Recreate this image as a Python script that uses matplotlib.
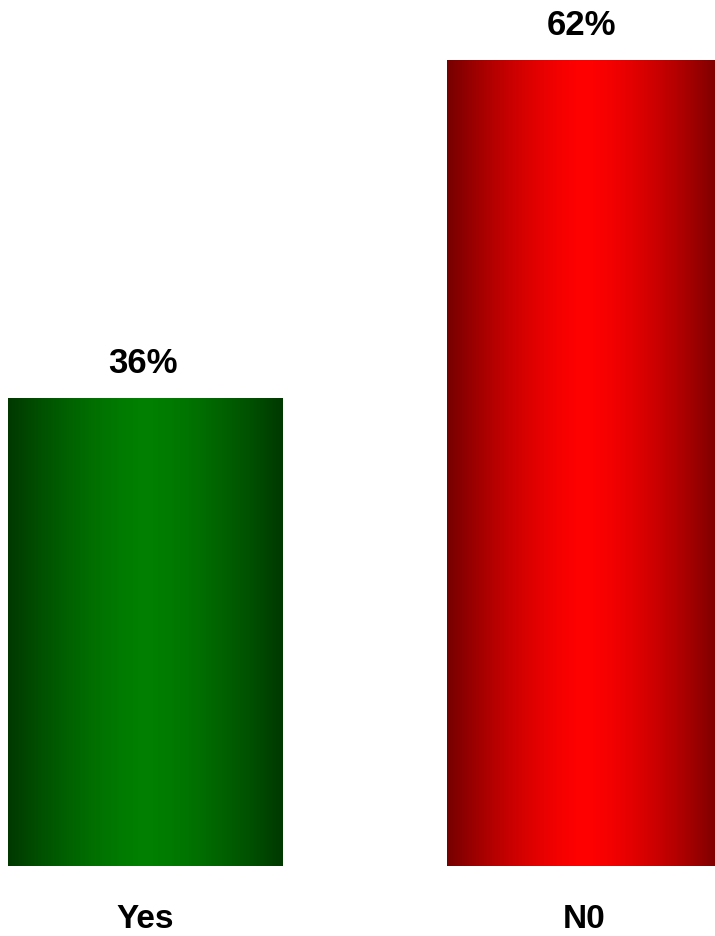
import numpy as np
import matplotlib
matplotlib.use("Agg")
import matplotlib.pyplot as plt

categories = ["Yes", "N0"]
values = [36, 62]
labels = ["36%", "62%"]
# (edge colour, centre colour) for the horizontal gradient of each bar
dark_colors = [(0, 56, 0), (118, 0, 0)]
bright_colors = [(0, 128, 0), (255, 0, 0)]

plt.rcParams["font.family"] = ["Liberation Sans", "DejaVu Sans"]

fig = plt.figure(figsize=(7.15, 9.36), dpi=100)
ax = fig.add_axes([0, 0, 1, 1])
ax.axis("off")

bars = ax.bar(range(len(values)), values, width=0.626, color="none")

t = np.linspace(-1, 1, 256)
profile = 1 - np.abs(t) ** 1.5
for rect, dark, bright in zip(bars, dark_colors, bright_colors):
    dark = np.array(dark) / 255
    bright = np.array(bright) / 255
    grad = dark[None, :] + (bright - dark)[None, :] * profile[:, None]
    x0, y0 = rect.get_x(), rect.get_y()
    w, h = rect.get_width(), rect.get_height()
    ax.imshow(grad[None, :, :], extent=(x0, x0 + w, y0, y0 + h),
              aspect="auto", interpolation="bilinear", zorder=2)

for i, (v, lab) in enumerate(zip(values, labels)):
    ax.annotate(lab, (i, v), xytext=(-2, 18), textcoords="offset points",
                ha="center", va="baseline", fontsize=25, fontweight="bold")
for i, cat in enumerate(categories):
    ax.annotate(cat, (i, 0), xytext=(0, -44.6), textcoords="offset points",
                ha="center", va="baseline", fontsize=24, fontweight="bold")

ax.set_xlim(-0.3314, 1.297)
ax.set_ylim(-5.385, 66.615)
fig.savefig("out.png", dpi=100)
